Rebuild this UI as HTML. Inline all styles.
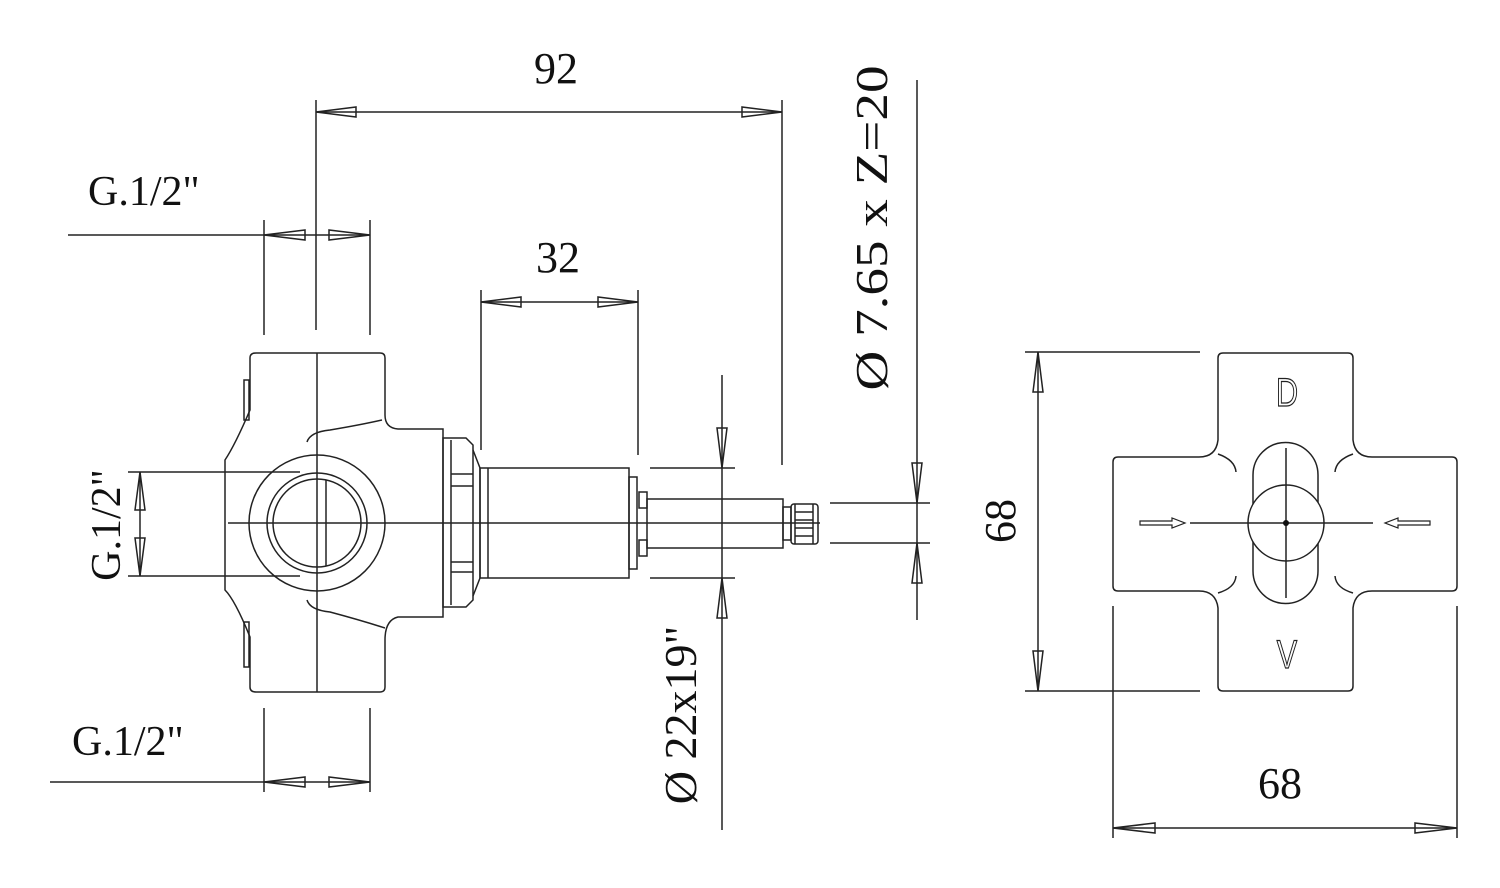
<!DOCTYPE html>
<html><head><meta charset="utf-8"><style>
html,body{margin:0;padding:0;background:#fff;}
svg{display:block}
text{font-family:"Liberation Serif",serif;fill:#111;}
</style></head><body>
<svg width="1500" height="888" viewBox="0 0 1500 888" xmlns="http://www.w3.org/2000/svg">
<g fill="none" stroke="#222" stroke-width="1.5">
<line x1="316" y1="100" x2="316" y2="330"/>
<line x1="782" y1="100" x2="782" y2="465"/>
<line x1="316" y1="112" x2="782" y2="112"/>
<polygon points="316,112 356,107 356,117"/>
<polygon points="782,112 742,107 742,117"/>
<line x1="68" y1="235" x2="370" y2="235"/>
<line x1="264" y1="220" x2="264" y2="335"/>
<line x1="370" y1="220" x2="370" y2="335"/>
<polygon points="264,235 305,230 305,240"/>
<polygon points="370,235 329,230 329,240"/>
<line x1="50" y1="782" x2="370" y2="782"/>
<line x1="264" y1="708" x2="264" y2="792"/>
<line x1="370" y1="708" x2="370" y2="792"/>
<polygon points="264,782 305,777 305,787"/>
<polygon points="370,782 329,777 329,787"/>
<line x1="128" y1="472" x2="300" y2="472"/>
<line x1="128" y1="576" x2="300" y2="576"/>
<line x1="140" y1="472" x2="140" y2="576"/>
<polygon points="140,472 135,510 145,510"/>
<polygon points="140,576 135,538 145,538"/>
<line x1="481" y1="290" x2="481" y2="450"/>
<line x1="638" y1="290" x2="638" y2="455"/>
<line x1="481" y1="302" x2="638" y2="302"/>
<polygon points="481,302 521,297 521,307"/>
<polygon points="638,302 598,297 598,307"/>
<line x1="722" y1="375" x2="722" y2="830"/>
<line x1="650" y1="468" x2="735" y2="468"/>
<line x1="650" y1="578" x2="735" y2="578"/>
<polygon points="722,468 717,428 727,428"/>
<polygon points="722,578 717,618 727,618"/>
<line x1="917" y1="80" x2="917" y2="620"/>
<line x1="830" y1="503" x2="930" y2="503"/>
<line x1="830" y1="543" x2="930" y2="543"/>
<polygon points="917,503 912,463 922,463"/>
<polygon points="917,543 912,583 922,583"/>

<path d="M256,353 H380 Q385,353 385,358 V415 Q385,428 398,429 H443 V617 H398 Q385,620 385,640 V687 Q385,692 380,692 H256 Q250,692 250,687 V637 Q235,600 225,590 V460 Q235,445 250,410 V358 Q250,353 256,353 Z"/>
<rect x="244" y="380" width="5" height="40"/>
<rect x="244" y="622" width="5" height="45"/>
<path d="M307,442 Q310,432 330,430 Q360,425 382,420"/>
<path d="M307,600 Q310,610 330,612 Q360,620 385,628"/>
<circle cx="317" cy="523" r="68"/>
<circle cx="317" cy="523" r="50"/>
<circle cx="317" cy="523" r="44"/>
<line x1="326" y1="480" x2="326" y2="566"/>
<line x1="317" y1="353" x2="317" y2="692"/>
<line x1="228" y1="523" x2="820" y2="523"/>
<path d="M443,438 H466 L473,445 V600 L466,607 H443 Z"/>
<line x1="451" y1="440" x2="451" y2="605"/>
<line x1="451" y1="474" x2="473" y2="474"/>
<line x1="451" y1="486" x2="473" y2="486"/>
<line x1="451" y1="562" x2="473" y2="562"/>
<line x1="451" y1="572" x2="473" y2="572"/>
<path d="M473,450 L480,468 V578 L473,596"/>
<rect x="480" y="468" width="149" height="110"/>
<line x1="488" y1="468" x2="488" y2="578"/>
<rect x="629" y="477" width="8" height="92"/>
<rect x="639" y="492" width="8" height="16"/>
<rect x="639" y="540" width="8" height="16"/>
<rect x="647" y="499" width="136" height="49"/>
<rect x="783" y="507" width="8" height="33"/>
<rect x="791" y="504" width="27" height="40" rx="3"/>
<line x1="795" y1="504" x2="795" y2="544"/>
<line x1="813" y1="504" x2="813" y2="544"/>
<line x1="795" y1="512" x2="813" y2="512"/>
<line x1="795" y1="520" x2="813" y2="520"/>
<line x1="795" y1="528" x2="813" y2="528"/>
<line x1="795" y1="536" x2="813" y2="536"/>

<line x1="1025" y1="352" x2="1200" y2="352"/>
<line x1="1025" y1="691" x2="1200" y2="691"/>
<line x1="1038" y1="352" x2="1038" y2="691"/>
<polygon points="1038,352 1033,392 1043,392"/>
<polygon points="1038,691 1033,651 1043,651"/>
<line x1="1113" y1="606" x2="1113" y2="838"/>
<line x1="1457" y1="606" x2="1457" y2="838"/>
<line x1="1113" y1="828" x2="1457" y2="828"/>
<polygon points="1113,828 1155,823 1155,833"/>
<polygon points="1457,828 1415,823 1415,833"/>
<path d="M1223,353 H1348 Q1353,353 1353,358 V440 Q1355,457 1372,457 H1452 Q1457,457 1457,462 V586 Q1457,591 1452,591 H1372 Q1355,591 1353,608 V686 Q1353,691 1348,691 H1223 Q1218,691 1218,686 V608 Q1216,591 1199,591 H1118 Q1113,591 1113,586 V462 Q1113,457 1118,457 H1199 Q1216,457 1218,440 V358 Q1218,353 1223,353 Z"/>
<path d="M1218,454 Q1235,460 1236,472"/>
<path d="M1353,454 Q1336,460 1335,472"/>
<path d="M1218,593 Q1235,588 1236,576"/>
<path d="M1353,593 Q1336,588 1335,576"/>
<path d="M1253,475 A32.5,32.5 0 0 1 1318,475 V571 A32.5,32.5 0 0 1 1253,571 Z"/>
<circle cx="1286" cy="523" r="38" fill="#fff"/>
<line x1="1190" y1="523" x2="1373" y2="523"/>
<line x1="1286" y1="448" x2="1286" y2="598"/>
<path d="M1140,521 H1172 V518 L1185,523 L1172,528 V525 H1140 Z" stroke-width="1.2"/>
<path d="M1430,521 H1398 V518 L1385,523 L1398,528 V525 H1430 Z" stroke-width="1.2"/>
</g>
<circle cx="1286" cy="523" r="3" fill="#111"/>
<text transform="translate(1287,406) scale(0.85,1.1)" font-size="36" text-anchor="middle" style="font-family:'Liberation Sans',sans-serif;fill:none;stroke:#222;stroke-width:1.1">D</text>
<text transform="translate(1287,668) scale(0.85,1.1)" font-size="36" text-anchor="middle" style="font-family:'Liberation Sans',sans-serif;fill:none;stroke:#222;stroke-width:1.1">V</text>

<text x="556" y="83" font-size="44" text-anchor="middle">92</text>
<text x="558" y="272" font-size="44" text-anchor="middle">32</text>
<text x="88" y="205" font-size="42">G.1/2"</text>
<text x="72" y="755" font-size="42">G.1/2"</text>
<text transform="translate(120,525) rotate(-90)" font-size="42" text-anchor="middle">G.1/2"</text>
<text transform="translate(696,715) rotate(-90)" font-size="46" text-anchor="middle">Ø 22x19"</text>
<text transform="translate(887,228) rotate(-90)" font-size="46" text-anchor="middle" textLength="325" lengthAdjust="spacingAndGlyphs">Ø 7.65 x Z=20</text>
<text transform="translate(1015,521) rotate(-90)" font-size="44" text-anchor="middle">68</text>
<text x="1280" y="798" font-size="44" text-anchor="middle">68</text>
</svg>
</body></html>
